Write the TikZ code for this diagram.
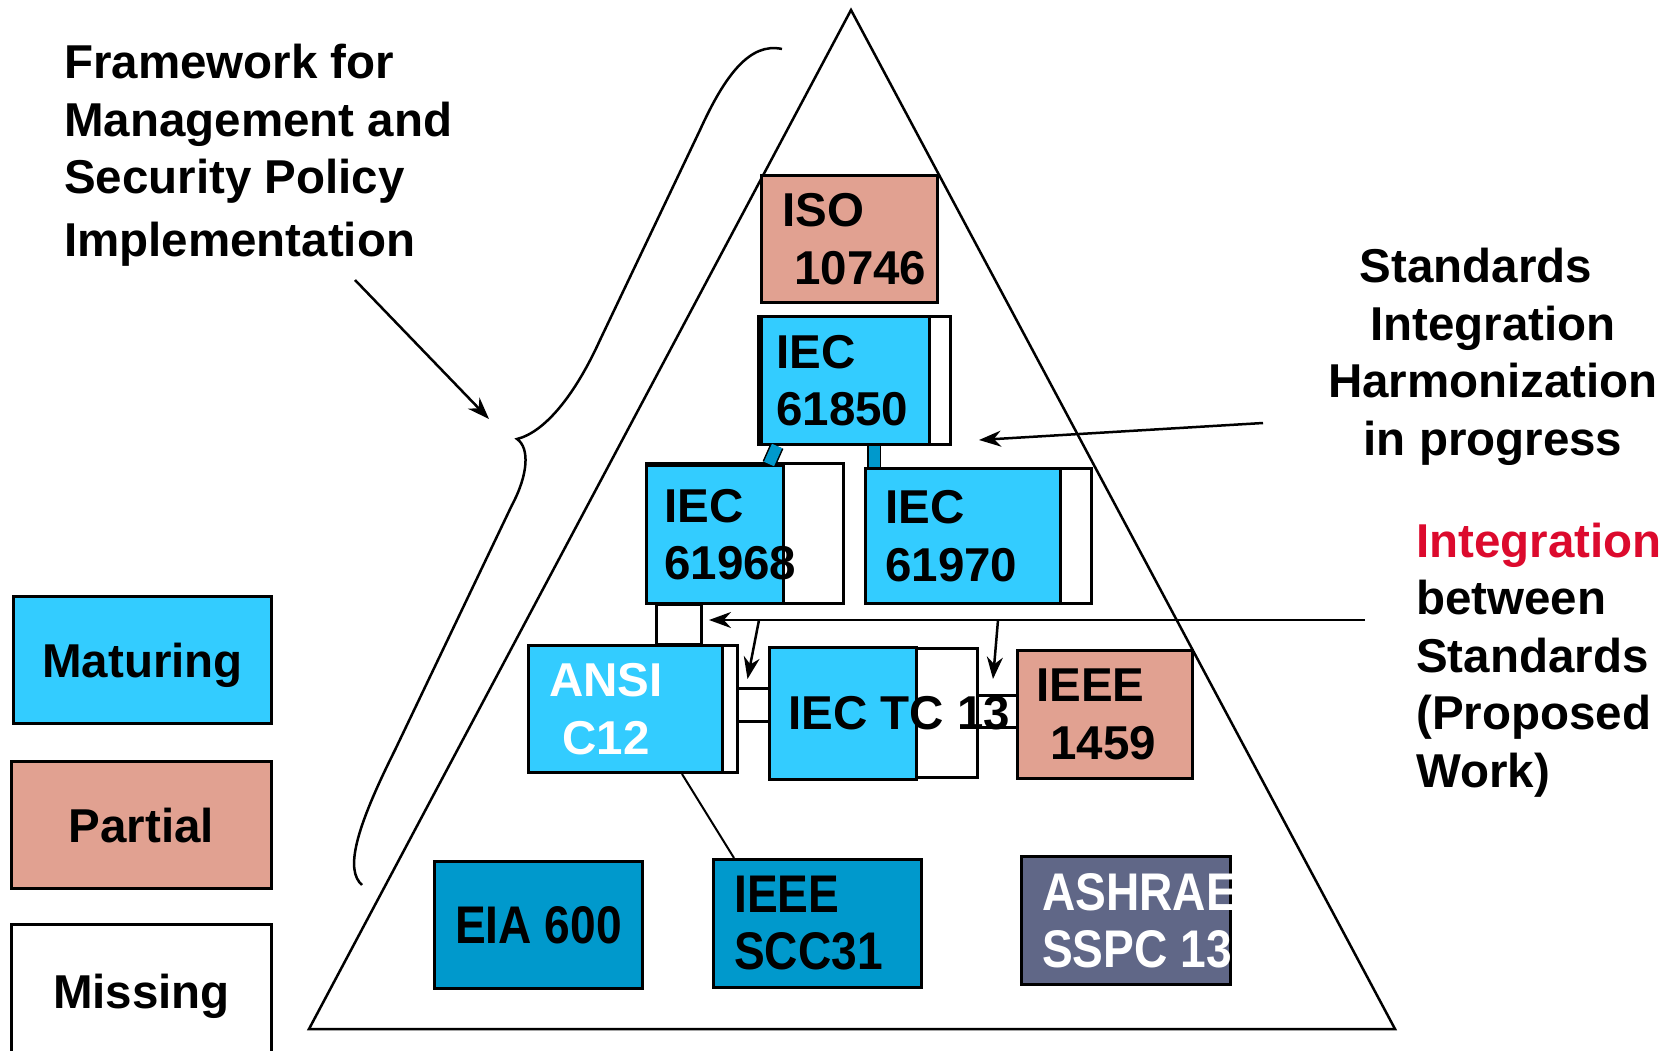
\documentclass[tikz,border=0pt]{standalone}
\usepackage{fontspec}
\setmainfont{Liberation Sans}
\newfontfamily\narrowfont[FakeStretch=0.87]{Liberation Sans}
\usetikzlibrary{positioning,calc,arrows.meta}

\definecolor{matblue}{RGB}{51,204,255}
\definecolor{partcol}{RGB}{225,161,145}
\definecolor{deepblue}{RGB}{0,153,204}
\definecolor{ashgrey}{RGB}{96,103,135}
\definecolor{intred}{RGB}{220,10,45}

\tikzset{
  box/.style={draw, line width=3pt, anchor=north west, inner sep=0pt,
    font=\fontsize{47.5}{57.5}\selectfont\bfseries, align=center},
  mature/.style={box, fill=matblue},
  partial/.style={box, fill=partcol},
  missing/.style={box, fill=white},
  older/.style={box, fill=deepblue, font=\narrowfont\fontsize{53}{57}\selectfont\bfseries},
  txt/.style={inner sep=0pt, font=\fontsize{47.5}{57.5}\selectfont\bfseries, align=left},
  ntxt/.style={inner sep=0pt, font=\narrowfont\fontsize{53}{57}\selectfont\bfseries, align=left},
  arr/.style={-{Stealth[length=22pt,width=16pt]}, line width=2.5pt},
  bar/.style={line width=1.5pt, double=deepblue, double distance=11pt},
}

\begin{document}
\begin{tikzpicture}[x=1pt,y=-1pt]
\useasboundingbox (0,0) rectangle (1672,1051);

% pyramid and brace
\draw[line width=2.5pt, line join=miter] (851,10) -- (1395,1029) -- (309,1029) -- cycle;
\draw[line width=2.5pt] (782,49) .. controls (750,42) and (725,75) .. (700,130)
  -- (600,340) .. controls (575,395) and (545,432) .. (517,439)
  .. controls (530,448) and (528,475) .. (512,505)
  -- (395,750) .. controls (355,830) and (345,870) .. (362,885);

% legend
\node[mature, text depth=0pt, minimum width=258pt, minimum height=127pt] (leg1) at (12,595) {Maturing};
\node[partial, text depth=0pt, minimum width=260pt, minimum height=127pt] (leg2) at (10,760) {Partial};
\node[missing, text depth=0pt, minimum width=260pt, minimum height=134pt] (leg3) at (10,923) {Missing};

% missing parts behind the maturing ones
\node[missing, minimum width=192pt, minimum height=128pt] (m61850) at (757,315) {};
\node[missing, minimum width=197pt, minimum height=140pt] (m61968) at (645,462) {};
\node[missing, minimum width=226pt, minimum height=135pt] (m61970) at (864,467) {};
\node[missing, minimum width=209pt, minimum height=127pt] (mansi) at (527,644) {};
\node[missing, minimum width=208pt, minimum height=129pt] (mtc) at (768,647) {};
\node[missing, minimum width=45pt, minimum height=40pt] (gap1) at (655,603) {};
\node[missing, minimum width=36pt, minimum height=33pt] (gap2) at (736,687) {};
\node[missing, minimum width=40pt, minimum height=32pt] (gap3) at (976,694) {};

% standards
\node[partial, minimum width=176pt, minimum height=127pt] (iso) at (760,174) {};
\node[mature, minimum width=168pt, minimum height=128pt] (iec61850) at (760,315) {};
\node[mature, minimum width=137pt, minimum height=138pt] (iec61968) at (645,464) {};
\node[mature, minimum width=195pt, minimum height=135pt] (iec61970) at (864,467) {};
\node[mature, minimum width=194pt, minimum height=127pt] (ansi) at (527,644) {};
\node[mature, minimum width=147pt, minimum height=132pt] (tc13) at (768,646) {};
\node[partial, minimum width=175pt, minimum height=128pt] (ieee1459) at (1016,649) {};
\node[older, minimum width=208pt, minimum height=127pt] (eia) at (433,860) {EIA 600};
\node[older, minimum width=208pt, minimum height=128pt] (scc) at (712,858) {};
\node[older, fill=ashgrey, minimum width=209pt, minimum height=128pt] (ashrae) at (1020,855) {};

\node[txt, right=22pt of iso.west] (isot) {ISO\\\hspace{12pt}10746};
\node[txt, right=16pt of iec61850.west] (t61850) {IEC\\61850};
\node[txt, right=19pt of iec61968.west] (t61968) {IEC\\61968};
\node[txt, right=21pt of iec61970.west] (t61970) {IEC\\61970};
\node[txt, text=white, align=center, right=22pt of ansi.west] (tansi) {ANSI\\C12};
\node[txt, right=20pt of tc13.west] (ttc13) {IEC TC 13};
\node[txt, right=20pt of ieee1459.west] (t1459) {IEEE\\\hspace{14pt}1459};
\node[ntxt, right=22pt of scc.west] (tscc) {IEEE\\SCC31};
\begin{scope}
  \clip (ashrae.north west) rectangle (ashrae.south east);
  \node[ntxt, text=white, right=22pt of ashrae.west] (tashrae) {ASHRAE\\SSPC 135};
\end{scope}

% links between standards
\draw[bar] ($(iec61850.south west)+(17,0)$) -- ($(iec61968.north west)+(124,0)$);
\draw[bar] ($(iec61850.south west)+(114,0)$) -- ($(iec61970.north west)+(10,0)$);
\draw[line width=2pt] ($(ansi.south west)+(155,0)$) -- ($(scc.north west)+(22,0)$);

% side texts
\node[txt, anchor=north west] (frame) at (64,44)
  {Framework for\\Management and\\Security Policy\\[5pt]Implementation};
\node[txt, align=center] (harm) at (1493,357)
  {Standards\hspace*{34pt}\\Integration\\Harmonization\\in progress};
\node[txt, anchor=west] (integ) at (1416,660)
  {\textcolor{intred}{Integration}\\between\\Standards\\(Proposed\\Work)};

% arrows
\coordinate (fwfrom) at (355,280);
\coordinate (fwto) at (489,419);
\coordinate (hfrom) at (1263,423);
\coordinate (hto) at (979,440);
\coordinate (ifrom) at (1365,620);
\coordinate (ito) at (709,620);
\coordinate (ia) at (759,620);
\coordinate (ib) at (998,620);
\draw[arr] (fwfrom) -- (fwto);
\draw[arr] (hfrom) -- (hto);
\draw[arr] (ifrom) -- (ito);
\draw[arr] (ia) -- ($(gap2.north)+(-8,-8)$);
\draw[arr] (ib) -- ($(gap3.north west)+(17,-15)$);

\end{tikzpicture}
\end{document}
